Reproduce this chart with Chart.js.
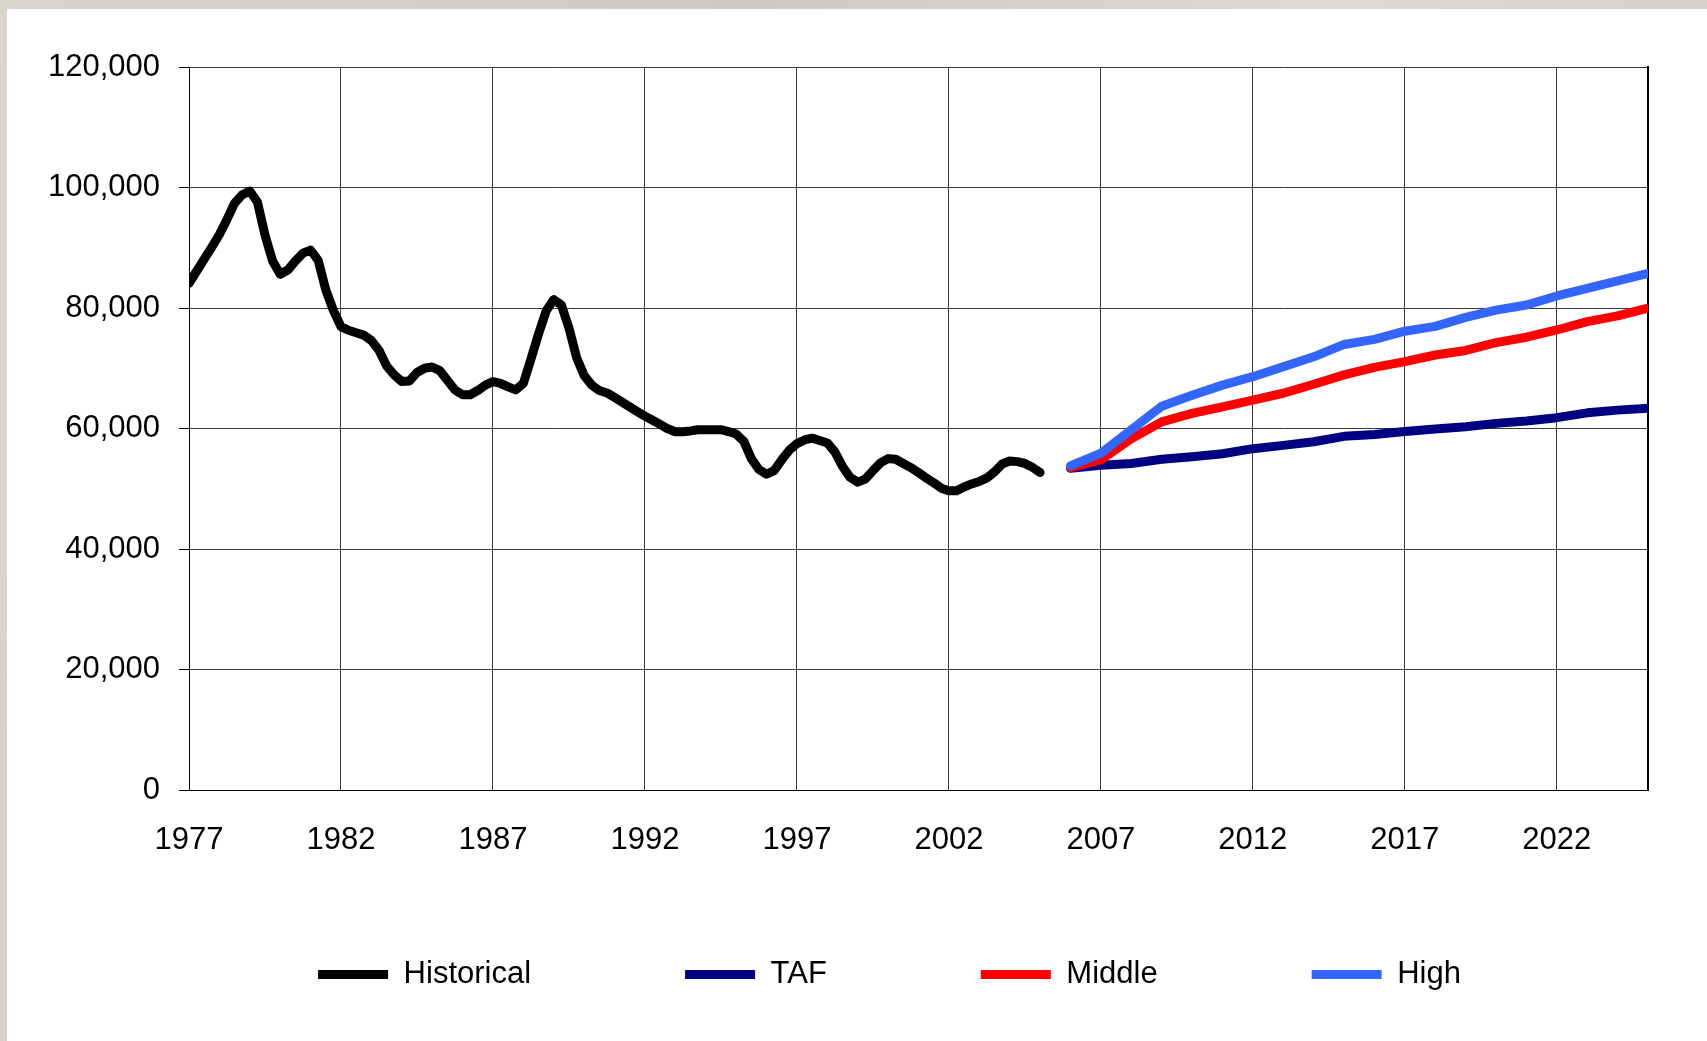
<!DOCTYPE html>
<html>
<head>
<meta charset="utf-8">
<script src="https://cdn.jsdelivr.net/npm/chart.js@4.4.1/dist/chart.umd.min.js"></script>
<style>
  html, body { margin: 0; padding: 0; }
  body {
    width: 1707px; height: 1041px; overflow: hidden; position: relative;
    background: linear-gradient(100deg, #d9d5cd 0%, #cfcac1 40%, #dedad3 70%, #d3cec6 100%);
  }
  #panel { position: absolute; left: 7px; top: 9px; width: 1700px; height: 1032px; background: #fff; }
</style>
</head>
<body>
<div id="panel"><canvas id="chart" width="1700" height="1032"></canvas></div>
<script>
// x axis labels (years) and y axis range
const yearTicks = [1977, 1982, 1987, 1992, 1997, 2002, 2007, 2012, 2017, 2022];
const yTicks = [0, 20000, 40000, 60000, 80000, 100000, 120000];

// historical series, quarterly from 1977 Q1 to 2005 Q1
const histStart = 1977;
const historical = [
  84100, 86100, 88100, 90100,
  92200, 94700, 97400, 98800,
  99400, 97600, 92100, 87800,
  85600, 86300, 87800, 89100,
  89600, 87900, 83000, 79600,
  76900, 76300, 75900, 75500,
  74600, 73000, 70400, 68900,
  67800, 67900, 69300, 70000,
  70200, 69600, 68000, 66400,
  65600, 65600, 66300, 67200,
  67800, 67500, 66900, 66400,
  67500, 71500, 75700, 79500,
  81400, 80500, 76700, 71800,
  68800, 67200, 66300, 65900,
  65150, 64370, 63590, 62800,
  62050, 61370, 60690, 59950,
  59470, 59470, 59600, 59800,
  59800, 59800, 59800, 59500,
  59100, 57900, 55000, 53200,
  52400, 53000, 54800, 56400,
  57500, 58100, 58400, 58000,
  57600, 56100, 53700, 51900,
  51100, 51600, 53000, 54300,
  55000, 54900, 54200, 53500,
  52700, 51800, 51000, 50100,
  49650, 49650, 50300, 50800,
  51200, 51800, 52800, 54100,
  54600, 54500, 54200, 53550,
  52700
];

// forecasts, annual 2006 - 2025
const forecastYears = [2006, 2007, 2008, 2009, 2010, 2011, 2012, 2013, 2014, 2015,
                       2016, 2017, 2018, 2019, 2020, 2021, 2022, 2023, 2024, 2025];
const taf = [53400, 53900, 54200, 54900, 55300, 55800, 56650, 57200, 57800, 58700,
             59000, 59500, 59900, 60300, 60850, 61250, 61800, 62600, 63050, 63350];
const middle = [53500, 54800, 58300, 61100, 62500, 63600, 64700, 65850, 67350, 68900,
                70150, 71100, 72200, 72950, 74250, 75150, 76350, 77750, 78700, 80000];
const high = [53800, 55900, 59800, 63700, 65500, 67200, 68600, 70250, 71900, 73950,
              74800, 76150, 76950, 78450, 79650, 80500, 82000, 83250, 84500, 85750];

const font = { family: "'Liberation Sans', Arial, sans-serif", size: 31 };

const histPoints = historical.map((v, i) => ({ x: histStart + i / 4, y: v }));
const toPoints = (vals) => vals.map((v, i) => ({ x: forecastYears[i], y: v }));

function lineSet(label, data, color, order) {
  return {
    label: label,
    data: data,
    borderColor: color,
    backgroundColor: color,
    borderWidth: 9,
    borderCapStyle: 'round',
    borderJoinStyle: 'round',
    pointRadius: 0,
    tension: 0,
    fill: false,
    order: order
  };
}

// move the legend row to where the original one sits (slightly right of centre, below the labels)
const legendPlace = {
  id: 'legendPlace',
  afterLayout(chart) {
    const lg = chart.legend;
    lg.left += 62;
    lg.right += 62;
    lg.top = 796;
    lg.bottom = 1032;
    lg.height = lg.bottom - lg.top;
  }
};

new Chart(document.getElementById('chart'), {
  type: 'line',
  data: {
    datasets: [
      lineSet('Historical', histPoints, '#000000', 3),
      lineSet('TAF', toPoints(taf), '#000080', 2),
      lineSet('Middle', toPoints(middle), '#ff0000', 1),
      lineSet('High', toPoints(high), '#3366ff', 0)
    ]
  },
  plugins: [legendPlace],
  options: {
    responsive: false,
    animation: false,
    layout: { padding: { left: 0, right: 59, top: 58, bottom: 0 } },
    plugins: {
      legend: {
        position: 'bottom',
        maxHeight: 171,
        labels: {
          usePointStyle: true,
          pointStyle: 'line',
          pointStyleWidth: 70,
          padding: 154,
          color: '#000',
          font: font,
          sort: (a, b) => a.datasetIndex - b.datasetIndex
        }
      },
      tooltip: { enabled: false }
    },
    scales: {
      x: {
        type: 'linear',
        min: 1977,
        max: 2025,
        afterBuildTicks: (s) => { s.ticks = yearTicks.map(v => ({ value: v })); },
        afterFit: (s) => { s.height = 80; },
        grid: { color: '#3a3a3a', lineWidth: 1, drawTicks: false },
        border: { color: '#000', width: 1 },
        ticks: {
          padding: 32, color: '#000', font: font,
          maxRotation: 0, autoSkip: false,
          callback: (v) => String(v)
        }
      },
      y: {
        min: 0,
        max: 120000,
        afterBuildTicks: (s) => { s.ticks = yTicks.map(v => ({ value: v })); },
        afterFit: (s) => { s.width = 182; },
        grid: { color: '#3a3a3a', lineWidth: 1, tickLength: 10, tickColor: '#000' },
        border: { color: '#000', width: 1 },
        ticks: {
          padding: 19, color: '#000', font: font,
          callback: (v) => v.toLocaleString('en-US')
        }
      },
      y2: {
        position: 'right',
        grid: { display: false },
        ticks: { display: false },
        border: { display: true, color: '#000', width: 2 },
        afterFit: (s) => { s.width = 0; }
      }
    }
  }
});
</script>
</body>
</html>
